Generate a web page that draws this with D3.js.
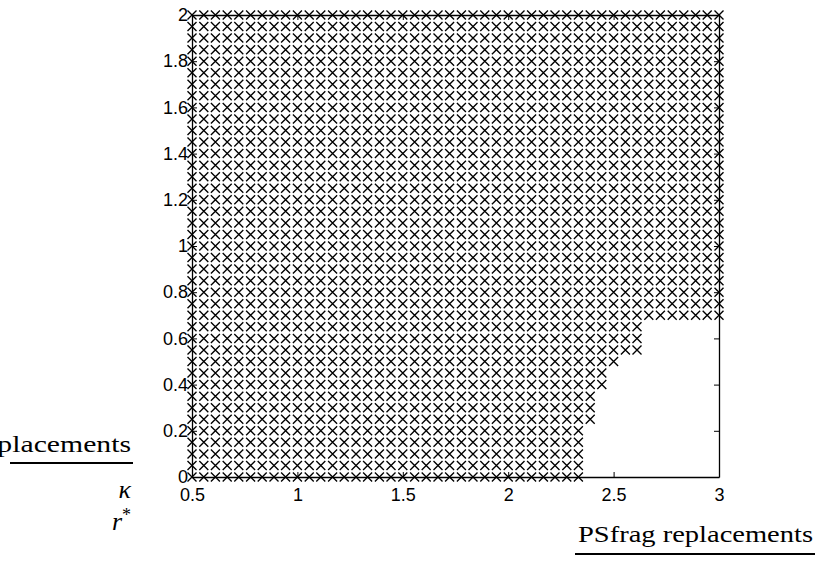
<!DOCTYPE html>
<html>
<head>
<meta charset="utf-8">
<script src="https://cdn.jsdelivr.net/npm/d3@7"></script>
<style>
  html, body { margin: 0; padding: 0; background: #fff; overflow: hidden; }
  svg { display: block; }
</style>
</head>
<body>
<svg id="chart" width="815" height="576"></svg>
<script>
// sample grid columns (kappa values), 0.5 .. 3 in steps of 1/18
const xCols = [0.5, 0.556, 0.611, 0.667, 0.722, 0.778, 0.833, 0.889, 0.944,
  1, 1.056, 1.111, 1.167, 1.222, 1.278, 1.333, 1.389, 1.444,
  1.5, 1.556, 1.611, 1.667, 1.722, 1.778, 1.833, 1.889, 1.944,
  2, 2.056, 2.111, 2.167, 2.222, 2.278, 2.333, 2.389, 2.444,
  2.5, 2.556, 2.611, 2.667, 2.722, 2.778, 2.833, 2.889, 2.944, 3];
// sample grid rows (r* values)
const yRows = [0, 0.05, 0.1, 0.15, 0.2, 0.25, 0.3, 0.35, 0.4, 0.45,
  0.5, 0.55, 0.6, 0.65, 0.7, 0.75, 0.8, 0.85, 0.9, 0.95,
  1, 1.05, 1.1, 1.15, 1.2, 1.25, 1.3, 1.35, 1.4, 1.45,
  1.5, 1.55, 1.6, 1.65, 1.7, 1.75, 1.8, 1.85, 1.9, 1.95, 2];
// largest kappa marked in each row
const rowMaxX = [2.333, 2.333, 2.333, 2.333, 2.333, 2.389, 2.389, 2.389, 2.444, 2.444,
  2.5, 2.611, 2.611, 2.611, 3, 3, 3, 3, 3, 3,
  3, 3, 3, 3, 3, 3, 3, 3, 3, 3,
  3, 3, 3, 3, 3, 3, 3, 3, 3, 3, 3];
const xTicks = [0.5, 1, 1.5, 2, 2.5, 3];
const yTicks = [0, 0.2, 0.4, 0.6, 0.8, 1, 1.2, 1.4, 1.6, 1.8, 2];

const svg = d3.select('#chart');
const x = d3.scaleLinear().domain([0.5, 3]).range([192, 719]);
const y = d3.scaleLinear().domain([0, 2]).range([477, 15]);

const points = [];
yRows.forEach((yv, i) => {
  xCols.forEach(xv => { if (xv <= rowMaxX[i] + 1e-6) points.push({x: xv, y: yv}); });
});

// axes box
const tickFont = '"Liberation Sans", Arial, Helvetica, sans-serif';
const fmt = d => String(d);

const gx = svg.append('g').attr('transform', 'translate(0,477)')
  .call(d3.axisBottom(x).tickValues(xTicks).tickFormat(fmt).tickSizeInner(-5).tickSizeOuter(0).tickPadding(11));
const gxt = svg.append('g').attr('transform', 'translate(0,15)')
  .call(d3.axisTop(x).tickValues(xTicks).tickFormat('').tickSizeInner(-5).tickSizeOuter(0));
const gy = svg.append('g').attr('transform', 'translate(192,0)')
  .call(d3.axisLeft(y).tickValues(yTicks).tickFormat(fmt).tickSizeInner(-5).tickSizeOuter(0).tickPadding(4));
const gyr = svg.append('g').attr('transform', 'translate(719,0)')
  .call(d3.axisRight(y).tickValues(yTicks).tickFormat('').tickSizeInner(-5).tickSizeOuter(0));

[gx, gxt, gy, gyr].forEach(g => {
  g.selectAll('path.domain').attr('stroke', '#000').attr('stroke-width', 1.3);
  g.selectAll('.tick line').attr('stroke', '#000');
  g.selectAll('text').attr('fill', '#000').attr('font-family', tickFont).attr('font-size', 18);
});

// cross markers
svg.append('g').selectAll('path.mk').data(points).enter().append('path')
  .attr('class', 'mk')
  .attr('transform', d => `translate(${x(d.x)},${y(d.y)})`)
  .attr('d', 'M-4.5,-4.5L4.5,4.5M-4.5,4.5L4.5,-4.5')
  .attr('stroke', '#000').attr('stroke-width', 1.35).attr('fill', 'none');

// psfrag leftovers
const serif = '"Liberation Serif", "Times New Roman", serif';
svg.append('text').attr('x', 131).attr('y', 452).attr('text-anchor', 'end')
  .attr('font-family', serif).attr('font-size', 24)
  .attr('textLength', 245).attr('lengthAdjust', 'spacingAndGlyphs')
  .text('PSfrag replacements');
svg.append('line').attr('x1', 10).attr('x2', 133).attr('y1', 463).attr('y2', 463)
  .attr('stroke', '#000').attr('stroke-width', 2);
svg.append('text').attr('x', 131).attr('y', 498).attr('text-anchor', 'end')
  .attr('font-family', serif).attr('font-style', 'italic').attr('font-size', 26)
  .text('κ');
const rs = svg.append('text').attr('x', 131).attr('y', 530).attr('text-anchor', 'end')
  .attr('font-family', serif).attr('font-style', 'italic').attr('font-size', 26);
rs.append('tspan').text('r');
rs.append('tspan').attr('dy', -9).attr('font-size', 18).attr('font-style', 'normal').text('*');

svg.append('text').attr('x', 578).attr('y', 542)
  .attr('font-family', serif).attr('font-size', 23)
  .attr('textLength', 235).attr('lengthAdjust', 'spacingAndGlyphs')
  .text('PSfrag replacements');
svg.append('line').attr('x1', 575).attr('x2', 815).attr('y1', 554).attr('y2', 554)
  .attr('stroke', '#000').attr('stroke-width', 2);
</script>
</body>
</html>
